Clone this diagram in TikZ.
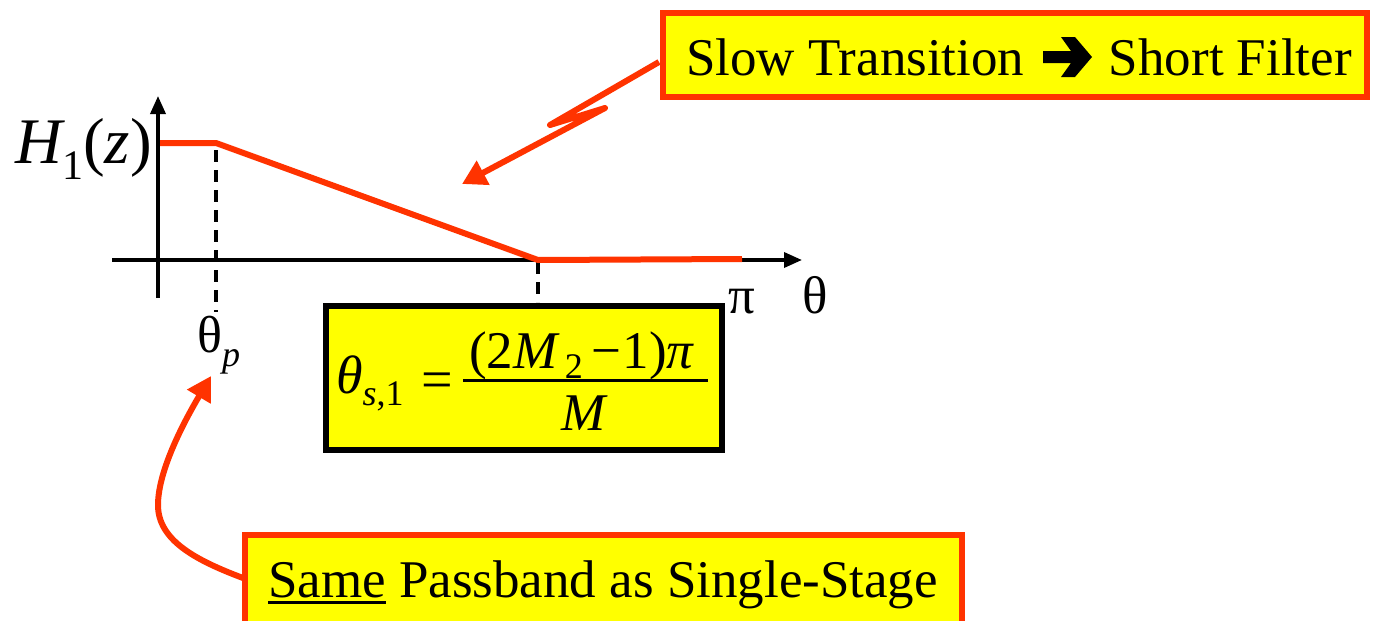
\documentclass[tikz,border=0pt]{standalone}
\usepackage{fontspec}
\setmainfont{Liberation Serif}
\usetikzlibrary{arrows.meta,calc}
\definecolor{redc}{RGB}{255,51,0}
\definecolor{yel}{RGB}{255,255,0}
\newcommand{\myfs}[1]{\fontsize{#1}{#1}\selectfont}
\newcommand{\myul}[1]{\setbox0\hbox{#1}\rlap{\rule[-7pt]{\wd0}{3pt}}\box0\relax}
\begin{document}
\begin{tikzpicture}[x=1pt,y=-1pt,
  redbox/.style={draw=redc,fill=yel,line width=6pt,inner sep=0pt},
  blkbox/.style={draw=black,fill=yel,line width=6pt,inner sep=0pt},
  axis/.style={line width=3.5pt,-{Triangle[length=18pt,width=15pt]}},
  curve/.style={draw=redc,line width=6pt,line join=round},
  guide/.style={line width=4pt,dash pattern=on 12pt off 8pt},
  redarrow/.style={draw=redc,line width=6pt,line join=round,-{Triangle[length=24pt,width=26pt]}},
  lbl/.style={inner sep=0pt,font=\myfs{53}}
]
\useasboundingbox (0,0) rectangle (1374,621);

% boxes
\node[redbox,minimum width=704pt,minimum height=84pt] (tb) at (1015,55) {};
\node[lbl,anchor=base west] (tt1) at (686,75) {Slow Transition};
\node[lbl,anchor=base east] (tt2) at (1352,75) {Short Filter};
\fill (1043,51) -- (1071,51) -- (1061,37) -- (1075,37) -- (1092,57) -- (1075,77)
  -- (1061,77) -- (1071,63) -- (1043,63) -- cycle;

\node[redbox,minimum width=717pt,minimum height=110pt] (bb) at (603.5,590) {};
\node[lbl,anchor=base west] (bt) at (268,597) {\myul{Same} Passband as Single-Stage};

\node[blkbox,minimum width=396pt,minimum height=144pt] (fb) at (524,378) {};

% axes
\coordinate (yo) at (158,298);
\coordinate (yt) at (158,96);
\coordinate (xo) at (112,260);
\coordinate (xt) at (802,260);
\draw[axis] (yo) -- (yt);
\draw[axis] (xo) -- (xt);

% guides
\coordinate (g1a) at (216,150);
\coordinate (g1b) at (216,312);
\coordinate (g2a) at (538,262);
\coordinate (g2b) at (538,302);
\draw[guide] (g1a) -- (g1b);
\draw[guide] (g2a) -- (g2b);

% response
\coordinate (c0) at (160,143);
\coordinate (cp) at (216,143);
\coordinate (cs) at (538,260);
\coordinate (ce) at (742,259);
\draw[curve] (c0) -- (cp) -- (cs) -- (ce);

% labels
\node[anchor=base east,inner sep=0pt] (H) at (152,163)
  {\myfs{65}\itshape H\raisebox{-16pt}{\myfs{42}\upshape 1}\upshape(\itshape z\upshape)};
\node[lbl,anchor=base west] (thp) at (197,352) {\myfs{52}θ\raisebox{-14pt}{\myfs{36}\itshape p}};
\node[lbl,anchor=base west] (pi) at (728,313) {π};
\node[lbl,anchor=base west] (th2) at (802,313) {θ};

% formula
\node[lbl,anchor=base west] (lhs) at (336,393) {\myfs{54}\itshape θ\raisebox{-12pt}{\myfs{36}s\upshape ,1}};
\node[lbl,anchor=base] (eq) at (437,398) {\myfs{56}=};
\node[lbl,anchor=base west] (num) at (469,368)
  {(2\textit{M}\hspace{5pt}\raisebox{-10pt}{\myfs{36}2}\hspace{9pt}−\hspace{1pt}1)\textit{π}};
\coordinate (bl) at (463,380);
\coordinate (br) at (708,380);
\draw[line width=3pt] (bl) -- (br);
\node[lbl,anchor=base] (den) at (584,430) {\itshape M};

% arrows
\coordinate (z1) at (550,125);
\coordinate (z2) at (605,108);
\coordinate (t1) at (462,184);
\draw[redarrow] ($(tb.west)+(-1,7)$) -- (z1) -- (z2) -- (t1);

\coordinate (m1) at (158,505);
\coordinate (t2) at (211,376);
\draw[redarrow] ($(bb.west)+(1,-12)$) .. controls (195,560) and (158,540) .. (m1)
  .. controls (158,470) and (185,420) .. (t2);
\end{tikzpicture}
\end{document}
